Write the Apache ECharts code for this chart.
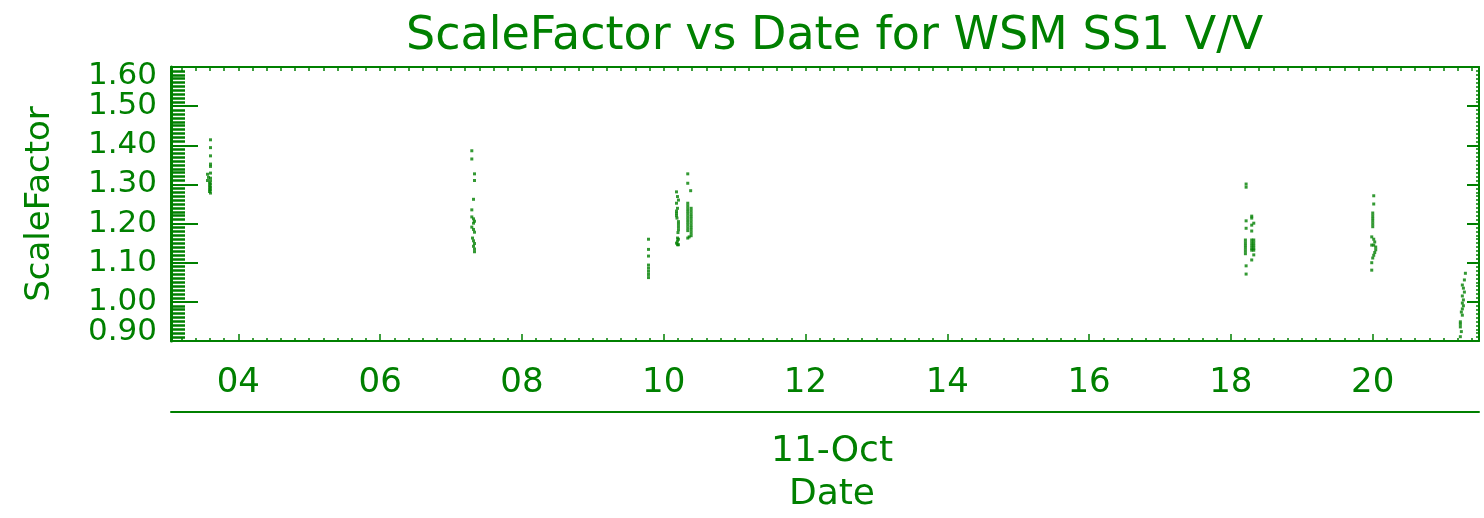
<!DOCTYPE html>
<html>
<head>
<meta charset="utf-8">
<title>ScaleFactor vs Date for WSM SS1 V/V</title>
<script src="https://cdn.jsdelivr.net/npm/echarts@6/dist/echarts.min.js"></script>
<style>
  html, body { margin: 0; padding: 0; background: #ffffff; }
  #chart { width: 1484px; height: 518px; }
</style>
</head>
<body>
<div id="chart"></div>
<script>
// Day of month (October 2011, fractional) and scale factor for each pass.
const pass1Days = [3.607, 3.607, 3.607, 3.607, 3.607, 3.607, 3.565, 3.579, 3.607, 3.565, 3.607, 3.593, 3.607, 3.593, 3.607, 3.593, 3.607, 3.593, 3.607];
const pass1Values = [1.414, 1.394, 1.373, 1.352, 1.346, 1.329, 1.326, 1.318, 1.316, 1.310, 1.309, 1.303, 1.301, 1.296, 1.293, 1.289, 1.286, 1.282, 1.278];

const pass2Days = [7.293, 7.293, 7.331, 7.331, 7.317, 7.293, 7.293, 7.317, 7.331, 7.317, 7.293, 7.317, 7.331, 7.303, 7.317, 7.331, 7.317, 7.331, 7.331];
const pass2Values = [1.386, 1.365, 1.327, 1.310, 1.262, 1.235, 1.217, 1.212, 1.206, 1.201, 1.191, 1.185, 1.178, 1.163, 1.156, 1.149, 1.142, 1.135, 1.128];

const pass3Days = [9.785, 9.785, 9.785, 9.785, 9.785, 9.785, 9.785, 9.785];
const pass3Values = [1.160, 1.134, 1.117, 1.094, 1.086, 1.078, 1.070, 1.062];

const pass4Days = [10.180, 10.194, 10.208, 10.180, 10.194, 10.180, 10.180, 10.180, 10.187, 10.208, 10.208, 10.208, 10.208, 10.201, 10.194, 10.208, 10.194, 10.180, 10.194, 10.208,
  10.339, 10.339, 10.380, 10.339, 10.339, 10.339, 10.339, 10.339, 10.339, 10.339, 10.339, 10.339, 10.339, 10.339,
  10.387, 10.387, 10.387, 10.387, 10.387, 10.387, 10.387, 10.387, 10.387, 10.387, 10.387, 10.359, 10.339];
const pass4Values = [1.281, 1.269, 1.260, 1.252, 1.239, 1.232, 1.226, 1.220, 1.214, 1.205, 1.198, 1.191, 1.184, 1.177, 1.163, 1.160, 1.155, 1.150, 1.146, 1.146,
  1.327, 1.303, 1.284, 1.252, 1.245, 1.238, 1.231, 1.224, 1.217, 1.210, 1.203, 1.196, 1.189, 1.182,
  1.239, 1.232, 1.225, 1.218, 1.211, 1.204, 1.197, 1.190, 1.183, 1.176, 1.169, 1.166, 1.163];

const pass5Days = [18.215, 18.215, 18.294, 18.294, 18.215, 18.323, 18.294, 18.215, 18.294,
  18.205, 18.205, 18.205, 18.205, 18.205, 18.205,
  18.294, 18.294, 18.294, 18.294, 18.294, 18.323, 18.323, 18.323, 18.323, 18.323,
  18.323, 18.294, 18.215, 18.215];
const pass5Values = [1.301, 1.293, 1.219, 1.214, 1.207, 1.201, 1.196, 1.188, 1.181,
  1.158, 1.151, 1.144, 1.137, 1.130, 1.123,
  1.158, 1.151, 1.144, 1.137, 1.132, 1.158, 1.151, 1.144, 1.137, 1.132,
  1.120, 1.107, 1.092, 1.071];

const pass6Days = [20.015, 20.015, 20.001, 20.001, 20.001, 20.001, 20.001, 20.001, 19.987, 20.015, 20.029, 19.987, 20.015, 20.043, 20.043, 20.029, 20.015, 20.001, 19.987, 19.987];
const pass6Values = [1.271, 1.250, 1.227, 1.220, 1.213, 1.206, 1.199, 1.192, 1.166, 1.160, 1.153, 1.145, 1.145, 1.140, 1.133, 1.126, 1.119, 1.112, 1.100, 1.081];

const pass7Days = [21.308, 21.294, 21.265, 21.280, 21.294, 21.265, 21.280, 21.265, 21.280, 21.265, 21.251, 21.265, 21.237, 21.237, 21.237, 21.251, 21.237];
const pass7Values = [1.073, 1.056, 1.043, 1.035, 1.025, 1.015, 1.005, 0.997, 0.990, 0.982, 0.974, 0.966, 0.949, 0.943, 0.936, 0.924, 0.911];

// Axis ticks and labels
const dayLabels = [4, 6, 8, 10, 12, 14, 16, 18, 20];
const dayMinorTicks = [];
for (let k = 16; k <= 107; k++) dayMinorTicks.push(+(k * 0.2).toFixed(1));
const dayMin = 3.05, dayMax = 21.5;
const sfMin = 0.9, sfMax = 1.6, sfStep = 0.1;
const sfEndLabels = [0.9, 1.6];
const monthLabel = '11-Oct';

const GREEN = '#008000';
const FONT = 'DejaVu Sans';

const allPasses = [
  [pass1Days, pass1Values], [pass2Days, pass2Values], [pass3Days, pass3Values],
  [pass4Days, pass4Values], [pass5Days, pass5Values], [pass6Days, pass6Values],
  [pass7Days, pass7Values]
];
const points = [];
allPasses.forEach(([d, v]) => d.forEach((x, i) => points.push([x, v[i]])));

const chart = echarts.init(document.getElementById('chart'), null, { renderer: 'canvas' });

const baseX = {
  type: 'value', gridIndex: 0, min: dayMin, max: dayMax,
  splitLine: { show: false }
};
const baseY = {
  type: 'value', min: sfMin, max: sfMax, interval: sfStep,
  splitLine: { show: false }
};
const yLabelStyle = { fontFamily: FONT, fontSize: 31, color: GREEN };

chart.setOption({
  animation: false,
  backgroundColor: '#ffffff',
  textStyle: { fontFamily: FONT, color: GREEN },
  title: {
    text: 'ScaleFactor vs Date for WSM SS1 V/V',
    left: 401, top: 9,
    textStyle: { fontFamily: FONT, fontSize: 46, fontWeight: 'normal', color: GREEN }
  },
  grid: { left: 171, right: 5, top: 67, bottom: 177, containLabel: false, outerBoundsMode: 'none' },
  xAxis: [
    Object.assign({}, baseX, {
      position: 'bottom',
      axisLine: { show: true, onZero: false, lineStyle: { color: GREEN, width: 2 } },
      axisTick: { show: true, inside: true, length: 7, customValues: dayLabels, lineStyle: { color: GREEN, width: 1.5 } },
      axisLabel: {
        show: true, customValues: dayLabels, margin: 25,
        formatter: v => String(v).padStart(2, '0'),
        fontFamily: FONT, fontSize: 34, color: GREEN
      }
    }),
    Object.assign({}, baseX, {
      position: 'bottom',
      axisLine: { show: false, onZero: false },
      axisTick: { show: true, inside: true, length: 3, customValues: dayMinorTicks, lineStyle: { color: GREEN, width: 1.5 } },
      axisLabel: { show: false }
    }),
    Object.assign({}, baseX, {
      position: 'top',
      axisLine: { show: true, onZero: false, lineStyle: { color: GREEN, width: 2 } },
      axisTick: { show: true, inside: true, length: 4, customValues: dayMinorTicks, lineStyle: { color: GREEN, width: 1.5 } },
      axisLabel: { show: false }
    }),
    Object.assign({}, baseX, {
      position: 'bottom', offset: 71,
      axisLine: { show: true, onZero: false, lineStyle: { color: GREEN, width: 2 } },
      axisTick: { show: false },
      axisLabel: { show: false },
      name: monthLabel + '\nDate',
      nameLocation: 'middle', nameGap: 18,
      nameTextStyle: { fontFamily: FONT, fontSize: 36, lineHeight: 43, color: GREEN, align: 'center', padding: [0, 0, 0, 14] }
    })
  ],
  yAxis: [
    // left axis: line, comb of ticks and the inner labels
    Object.assign({}, baseY, {
      position: 'left',
      axisLine: { show: true, onZero: false, lineStyle: { color: GREEN, width: 3 } },
      axisTick: { show: true, inside: true, length: 27, lineStyle: { color: GREEN, width: 2 } },
      minorTick: { show: true, splitNumber: 10, length: 14, lineStyle: { color: GREEN, width: 2.5 } },
      axisLabel: Object.assign({
        show: true, margin: 14, showMinLabel: false, showMaxLabel: false,
        formatter: v => v.toFixed(2)
      }, yLabelStyle),
      name: 'ScaleFactor', nameLocation: 'middle', nameRotate: 90, nameGap: 114,
      nameTextStyle: { fontFamily: FONT, fontSize: 34, color: GREEN }
    }),
    // right axis: line and short ticks
    Object.assign({}, baseY, {
      position: 'right',
      axisLine: { show: true, onZero: false, lineStyle: { color: GREEN, width: 2 } },
      axisTick: { show: true, inside: true, length: 12, lineStyle: { color: GREEN, width: 2 } },
      minorTick: { show: true, splitNumber: 10, length: 3, lineStyle: { color: GREEN, width: 1.5 } },
      axisLabel: { show: false }
    }),
    // end labels of the left axis, kept inside the frame
    {
      type: 'value', position: 'left', min: sfMin, max: sfMax,
      splitLine: { show: false },
      axisLine: { show: false, onZero: false },
      axisTick: { show: false },
      axisLabel: Object.assign({
        show: true, margin: 14, customValues: sfEndLabels, lineHeight: 18,
        formatter: v => v.toFixed(2),
        verticalAlignMinLabel: 'bottom', verticalAlignMaxLabel: 'top'
      }, yLabelStyle)
    }
  ],
  series: [{
    type: 'scatter',
    xAxisIndex: 0, yAxisIndex: 0,
    symbol: 'rect', symbolSize: [3, 3],
    itemStyle: { color: GREEN },
    data: points
  }]
});
</script>
</body>
</html>
